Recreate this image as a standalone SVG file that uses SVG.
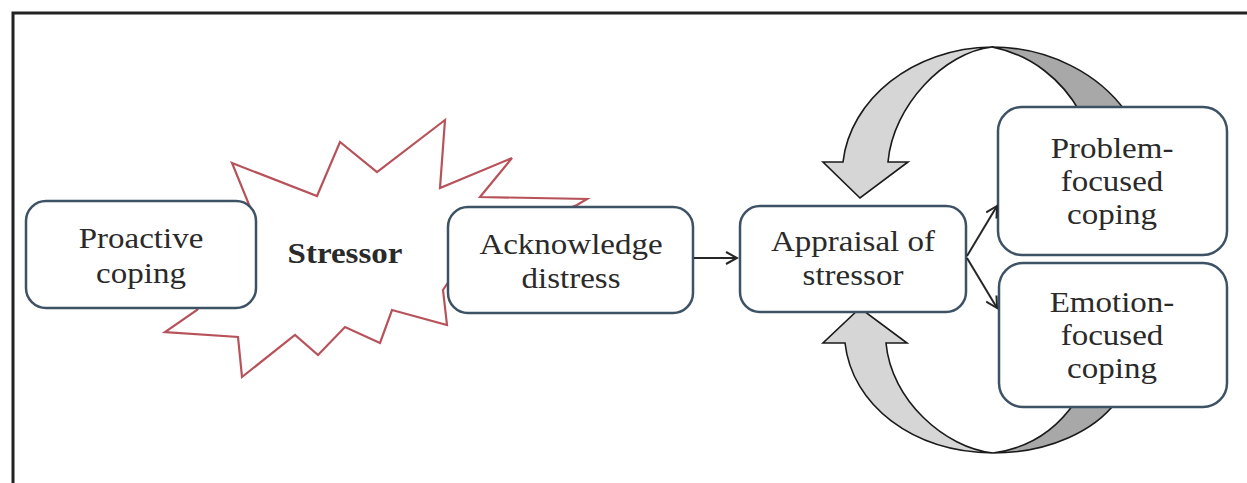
<svg xmlns="http://www.w3.org/2000/svg" width="1247" height="483" viewBox="0 0 1247 483">
  <defs>
    <style>
      .box { fill: #ffffff; stroke: #3e5266; stroke-width: 2.5; }
      .lbl { font-family: 'Liberation Serif', serif; font-size: 30px; fill: #2a2a2a; text-anchor: middle; }
      .bold { font-weight: bold; }
      .burst { fill: #ffffff; stroke: #b8525a; stroke-width: 2.2; stroke-linejoin: miter; }
      .curve-light { fill: #d6d6d6; stroke: #1a1a1a; stroke-width: 1.6; stroke-linejoin: miter; }
      .curve-dark { fill: #a8a8a8; stroke: #1a1a1a; stroke-width: 1.6; }
      .conn { fill: none; stroke: #262626; stroke-width: 2; }
    </style>
    <marker id="open" viewBox="0 0 14 14" refX="12" refY="7" markerWidth="14" markerHeight="14" markerUnits="userSpaceOnUse" orient="auto">
      <path d="M1,1 L12,7 L1,13" fill="none" stroke="#262626" stroke-width="2"/>
    </marker>
  </defs>
  <rect width="1247" height="483" fill="#ffffff"/>
  <path d="M13,483 L13,13 L1247,13" fill="none" stroke="#222222" stroke-width="3"/>

  <g id="stressor">
    <polygon class="burst" points="232,163 317,196 340,142 377,172 445,120 440,188 512,158 480,197 587,199 577,205 470,250 443,290 447,325 392,310 380,343 345,327 318,355 295,335 242,377 238,337 165,332 197,310 230,260 250,207"/>
    <text class="lbl bold" transform="translate(345 0) scale(1.1 1)" x="0" y="263">Stressor</text>
  </g>

  <g id="loop-top">
    <path class="curve-dark" d="M992,47 C1050,47 1100,75 1126,112 L1080,112 C1062,80 1032,55 992,47 Z"/>
    <path class="curve-light" d="M823,162 L843,162 C850,100 912,48 992,47 C945,52 893,105 888,162 L908,162 L860,198 Z"/>
  </g>
  <g id="loop-bottom">
    <path class="curve-dark" d="M993,453 C1050,453 1095,430 1116,402 L1075,402 C1056,430 1030,448 993,453 Z"/>
    <path class="curve-light" d="M823,343 L845,343 C852,405 912,452 993,453 C945,448 891,400 886,343 L907,343 L860,308 Z"/>
  </g>

  <g id="proactive">
    <rect class="box" x="26" y="201" width="230" height="107" rx="20"/>
    <text class="lbl" transform="translate(141 0) scale(1.1 1)" x="0" y="248">Proactive</text>
    <text class="lbl" transform="translate(141 0) scale(1.1 1)" x="0" y="283">coping</text>
  </g>
  <g id="acknowledge">
    <rect class="box" x="448" y="207" width="245" height="106" rx="20"/>
    <text class="lbl" transform="translate(571 0) scale(1.1 1)" x="0" y="254">Acknowledge</text>
    <text class="lbl" transform="translate(571 0) scale(1.1 1)" x="0" y="288">distress</text>
  </g>
  <g id="appraisal">
    <rect class="box" x="740" y="206" width="226" height="106" rx="20"/>
    <text class="lbl" transform="translate(853 0) scale(1.1 1)" x="0" y="251">Appraisal of</text>
    <text class="lbl" transform="translate(853 0) scale(1.1 1)" x="0" y="285">stressor</text>
  </g>
  <g id="problem">
    <rect class="box" x="998" y="107" width="229" height="148" rx="24"/>
    <text class="lbl" transform="translate(1112 0) scale(1.1 1)" x="0" y="158">Problem-</text>
    <text class="lbl" transform="translate(1112 0) scale(1.1 1)" x="0" y="191">focused</text>
    <text class="lbl" transform="translate(1112 0) scale(1.1 1)" x="0" y="224">coping</text>
  </g>
  <g id="emotion">
    <rect class="box" x="999" y="263" width="228" height="144" rx="24"/>
    <text class="lbl" transform="translate(1112 0) scale(1.1 1)" x="0" y="312">Emotion-</text>
    <text class="lbl" transform="translate(1112 0) scale(1.1 1)" x="0" y="345">focused</text>
    <text class="lbl" transform="translate(1112 0) scale(1.1 1)" x="0" y="378">coping</text>
  </g>

  <g id="connectors">
    <line class="conn" x1="694" y1="258" x2="737" y2="258" marker-end="url(#open)"/>
    <line class="conn" x1="967" y1="256" x2="997" y2="206" marker-end="url(#open)"/>
    <line class="conn" x1="967" y1="258" x2="997" y2="308" marker-end="url(#open)"/>
  </g>
</svg>
